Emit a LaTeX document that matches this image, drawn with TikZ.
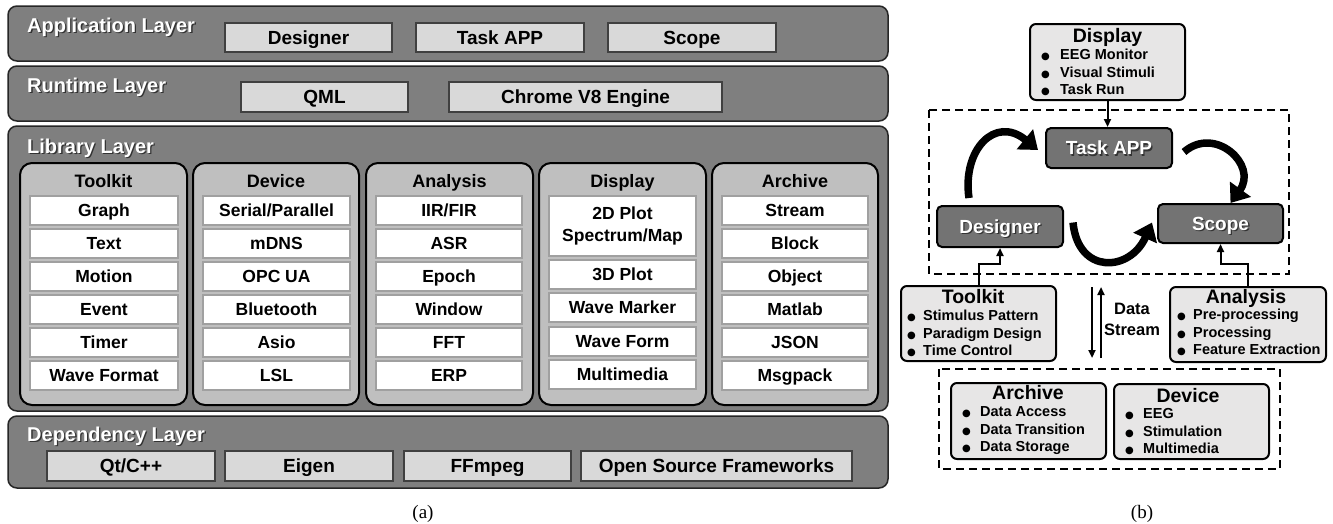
\documentclass[tikz,border=0pt]{standalone}
\usepackage{fontspec}
\setmainfont{Liberation Sans}
\newfontfamily\capfont{Liberation Serif}
\newfontfamily\dvs{DejaVu Sans}
\usetikzlibrary{arrows.meta}
\definecolor{layerfill}{HTML}{7F7F7F}
\definecolor{panelfill}{HTML}{BFBFBF}
\definecolor{itemfill}{HTML}{D9D9D9}
\definecolor{libborder}{HTML}{A0A0A0}
\definecolor{bboxfill}{HTML}{E7E6E6}
\definecolor{darkbox}{HTML}{737373}
\newcommand{\fsz}[1]{\fontsize{#1pt}{#1pt}\selectfont\bfseries}
\newcommand{\shd}[1]{\makebox[0pt][l]{\kern1.3pt\raisebox{-1.3pt}{\color{black!80}#1}}{\color{white}#1}}
\newcommand{\bul}[1][17pt]{\makebox[#1][l]{\dvs\fontsize{10pt}{10pt}\selectfont ●}}
\newcommand{\bx}[5]{\node[#1,minimum width={(#4)-(#2)},minimum height={(#5)-(#3)}] at ({((#2)+(#4))/2},{((#3)+(#5))/2})}
\tikzset{
  layer/.style={draw=black!85, line width=1.5pt, fill=layerfill, rounded corners=9pt, inner sep=0pt},
  panel/.style={draw=black, line width=2pt, fill=panelfill, rounded corners=12pt, inner sep=0pt},
  appitem/.style={draw=black!75, line width=2.5pt, fill=itemfill, inner sep=0pt, font=\fsz{19}, text height=13.7pt, text depth=0pt},
  libitem/.style={draw=libborder, line width=2.5pt, fill=white, inner sep=0pt, font=\fsz{17.5}, text height=12.6pt, text depth=0pt},
  ltitle/.style={anchor=base west, inner sep=0pt, font=\fsz{20}},
  phead/.style={anchor=base, inner sep=0pt, font=\fsz{18}},
  bbox/.style={draw=black, line width=2pt, fill=bboxfill, rounded corners=6pt, inner sep=0pt},
  dbox/.style={draw=black, line width=2pt, fill=darkbox, rounded corners=5pt, inner sep=0pt, font=\fsz{19}, text height=13.7pt, text depth=0pt},
  btitle/.style={anchor=base, inner sep=0pt, font=\fsz{19.5}},
  blist/.style={anchor=west, inner sep=0pt, font=\fontsize{14.5pt}{17.5pt}\selectfont\bfseries},
  dashbox/.style={draw=black, line width=2.5pt, dash pattern=on 8pt off 5pt},
  thinarrow/.style={line width=2pt, -{Triangle[length=8pt,width=7pt]}},
  bigarrow/.style={line width=7.5pt, -{Triangle[length=17pt,width=25pt]}},
  capt/.style={anchor=base, inner sep=0pt, font=\capfont\fontsize{19pt}{19pt}\selectfont}
}
\begin{document}
\begin{tikzpicture}[x=1pt,y=-1pt]
\useasboundingbox (0,0) rectangle (1333,523);
\fill[white] (0,0) rectangle (1333,523);

% ---------------- (a) ----------------
\bx{layer}{8}{6}{888}{61} (appL) {};
\node[ltitle] (appT) at (27,32) {\shd{Application Layer}};
\bx{appitem}{225}{23}{392}{52} (aDes) {Designer};
\bx{appitem}{416}{23}{584}{52} (aTask) {Task APP};
\bx{appitem}{608}{23}{776}{52} (aScope) {Scope};

\bx{layer}{8}{66}{888}{121} (rtL) {};
\node[ltitle] (rtT) at (27,92) {\shd{Runtime Layer}};
\bx{appitem}{241}{82}{408}{112} (rQml) {QML};
\bx{appitem}{449}{82}{722}{112} (rV8) {Chrome V8 Engine};

\bx{layer}{8}{126}{888}{411} (libL) {};
\node[ltitle] (libT) at (27,153) {\shd{Library Layer}};

\bx{panel}{20}{163}{187}{405} (pTk) {};
\node[phead] (hTk) at (103.5,187) {Toolkit};
\foreach \t [count=\i from 0] in {Graph,Text,Motion,Event,Timer,Wave Format}
  \bx{libitem}{30}{196+33*\i}{178}{225+33*\i} (tk\i) {\t};

\bx{panel}{193}{163}{359}{405} (pDev) {};
\node[phead] (hDev) at (276,187) {Device};
\foreach \t [count=\i from 0] in {Serial/Parallel,mDNS,OPC UA,Bluetooth,Asio,LSL}
  \bx{libitem}{203}{196+33*\i}{350}{225+33*\i} (dv\i) {\t};

\bx{panel}{366}{163}{533}{405} (pAna) {};
\node[phead] (hAna) at (449.5,187) {Analysis};
\foreach \t [count=\i from 0] in {IIR/FIR,ASR,Epoch,Window,FFT,ERP}
  \bx{libitem}{376}{196+33*\i}{522}{225+33*\i} (an\i) {\t};

\bx{panel}{539}{163}{706}{405} (pDsp) {};
\node[phead] (hDsp) at (622.5,187) {Display};
\bx{libitem, text height=, text depth=, align=center, font=\fontsize{17.5pt}{22pt}\selectfont\bfseries}{549}{196}{696}{256} (ds0) {2D Plot\\Spectrum/Map};
\bx{libitem}{549}{260}{696}{289} (ds1) {3D Plot};
\bx{libitem}{549}{293}{696}{322} (ds2) {Wave Marker};
\bx{libitem}{549}{327}{696}{356} (ds3) {Wave Form};
\bx{libitem}{549}{360}{696}{389} (ds4) {Multimedia};

\bx{panel}{712}{163}{878}{405} (pArc) {};
\node[phead] (hArc) at (795,187) {Archive};
\foreach \t [count=\i from 0] in {Stream,Block,Object,Matlab,JSON,Msgpack}
  \bx{libitem}{722}{196+33*\i}{868}{225+33*\i} (ar\i) {\t};

\bx{layer}{8}{416}{888}{488} (depL) {};
\node[ltitle] (depT) at (27,441) {\shd{Dependency Layer}};
\bx{appitem}{47}{451}{215}{481} (dQt) {Qt/C++};
\bx{appitem}{225}{451}{393}{481} (dEig) {Eigen};
\bx{appitem}{404}{451}{571}{481} (dFf) {FFmpeg};
\bx{appitem}{581}{451}{852}{481} (dOsf) {Open Source Frameworks};

\node[capt] (capA) at (423,518) {(a)};

% ---------------- (b) ----------------
\draw[dashbox] (929,110) rectangle (1289,274);
\draw[dashbox] (939,369) rectangle (1280,469);

\bx{bbox}{1030}{24}{1185}{100} (bDisp) {};
\node[btitle] (bDispT) at (1107.5,42) {Display};
\node[blist] (bDispL) at (1041,73.5) {\begin{tabular}{@{}l@{}}\bul[19pt]EEG Monitor\\\bul[19pt]Visual Stimuli\\\bul[19pt]Task Run\end{tabular}};

\bx{dbox}{1046}{128}{1172}{168} (bTask) {\shd{Task APP}};
\bx{dbox}{937}{206}{1063}{247} (bDes) {\shd{Designer}};
\bx{dbox}{1158}{204}{1283}{243} (bScope) {\shd{Scope}};

\bx{bbox}{901}{286}{1056}{361} (bTk) {};
\node[btitle] (bTkT) at (973,303) {Toolkit};
\node[blist] (bTkL) at (907,334.5) {\begin{tabular}{@{}l@{}}\bul[16pt]Stimulus Pattern\\\bul[16pt]Paradigm Design\\\bul[16pt]Time Control\end{tabular}};

\bx{bbox}{1170}{287}{1326}{362} (bAna) {};
\node[btitle] (bAnaT) at (1246,303) {Analysis};
\node[blist] (bAnaL) at (1177,333.5) {\begin{tabular}{@{}l@{}}\bul[16pt]Pre-processing\\\bul[16pt]Processing\\\bul[16pt]Feature Extraction\end{tabular}};

\bx{bbox}{951}{383}{1106}{459} (bArc) {};
\node[btitle] (bArcT) at (1028,399) {Archive};
\node[blist] (bArcL) at (962,430.5) {\begin{tabular}{@{}l@{}}\bul[18pt]Data Access\\\bul[18pt]Data Transition\\\bul[18pt]Data Storage\end{tabular}};

\bx{bbox}{1114}{384}{1269}{459} (bDev) {};
\node[btitle] (bDevT) at (1188,402) {Device};
\node[blist] (bDevL) at (1125,432.5) {\begin{tabular}{@{}l@{}}\bul[18pt]EEG\\\bul[18pt]Stimulation\\\bul[18pt]Multimedia\end{tabular}};

% connectors
\draw[thinarrow] (bDisp.south) -- (bDisp.south |- bTask.north);
\draw[thinarrow] (bTk.north) -- ++(0,-21) -| (bDes.south);
\draw[thinarrow] (bAna.north) -- ++(0,-22) -| (bScope.south);

\coordinate (dsTop1) at (1092,287);
\coordinate (dsBot1) at (1092,358);
\coordinate (dsTop2) at (1101,287);
\coordinate (dsBot2) at (1101,358);
\draw[thinarrow] (dsTop1) -- (dsBot1);
\draw[thinarrow] (dsBot2) -- (dsTop2);
\node[anchor=center, inner sep=0pt, align=center, font=\fontsize{16.5pt}{21pt}\selectfont\bfseries] (dsT) at (1132,319) {Data\\Stream};

\draw[bigarrow] ([xshift=33pt,yshift=7pt]bDes.north west) .. controls (962,150) and (995,115) .. ([xshift=-7pt,yshift=-2pt]bTask.west);
\draw[bigarrow] ([xshift=11pt,yshift=-4pt]bTask.east) .. controls (1215,125) and (1258,165) .. ([xshift=10pt,yshift=0pt]bScope.north);
\draw[bigarrow] ([xshift=9pt,yshift=4pt]bDes.east) .. controls (1078,275) and (1130,272) .. ([xshift=-5pt,yshift=1pt]bScope.west);

\node[capt] (capB) at (1142,518) {(b)};
\end{tikzpicture}
\end{document}
